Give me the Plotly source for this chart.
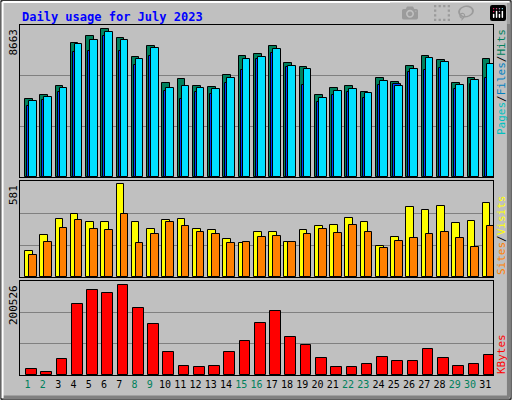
import plotly.graph_objects as go

days = list(range(1, 32))
hits = [4547,4782,5312,7840,8252,8663,8134,7017,7664,5488,5723,5312,5253,5958,7076,7193,7664,6664,6429,4782,5194,5312,4959,5782,5547,6488,7076,6840,5488,5782,6899]
pages = [4430,4665,5194,7781,8016,8487,8016,6899,7546,5194,5312,5194,5135,5782,6899,7017,7487,6488,6311,4606,5018,5135,4900,5606,5312,6311,6958,6723,5370,5664,6605]
files = [4136,4488,4959,7311,7370,8252,7370,6546,7076,5018,4547,4959,4841,5488,6252,6899,7252,6429,5370,4371,4782,4959,4606,5370,5429,6135,6252,6370,5135,5429,5782]
visits = [164,265,366,392,347,347,581,347,303,360,366,303,297,240,215,284,284,221,297,322,328,373,347,196,253,436,423,448,341,354,461]
sites = [139,221,309,360,303,297,392,215,272,347,322,284,272,215,221,253,259,221,272,303,278,328,284,183,227,246,272,284,246,189,322]
kbytes = [13904,7318,35858,156605,189536,180755,200526,147824,112697,51226,20490,18295,20490,51226,75375,114893,141237,84157,66594,38054,18295,18295,24881,40249,31467,31467,57812,38054,20490,24881,44640]
weekend = {1,2,8,9,15,16,22,23,29,30}

H = 400.0
def py(px): return 1 - px / H

ln = dict(color="black", width=1)
fig = go.Figure()
def bar(y, color, off, w, axis):
    fig.add_trace(go.Bar(x=days, y=y, marker=dict(color=color, line=ln), offset=off, width=w,
                         xaxis="x" + axis if axis != "1" else "x", yaxis="y" + axis if axis != "1" else "y",
                         showlegend=False, hoverinfo="skip"))

bar(hits, "#00805C", -0.17, 0.5, "1")
bar(files, "#0040FF", -0.04, 0.5, "1")
bar(pages, "#00E0FF", 0.09, 0.5, "1")
bar(visits, "#FFFF00", -0.17, 0.5, "2")
bar(sites, "#FF8000", 0.09, 0.5, "2")
bar(kbytes, "#FF0000", -0.1, 0.7, "3")

xd = [20/512, 493/512]
def xax(show):
    d = dict(domain=xd, range=[0.5, 31.5], showgrid=False, zeroline=False, showline=True, mirror=True,
             linecolor="black", fixedrange=True)
    if show:
        d.update(tickvals=days, tickangle=0,
                 ticktext=[f'<span style="color:{"#00805C" if d_ in weekend else "black"}">{d_}</span>' for d_ in days],
                 tickfont=dict(family="DejaVu Sans Mono", size=10), ticks="")
    else:
        d.update(showticklabels=False)
    return d

def yax(dom, R):
    return dict(domain=dom, range=[0, R], tickvals=[R/3, 2*R/3], showticklabels=False, gridcolor="#808080",
                gridwidth=1, zeroline=False, showline=True, mirror=True, linecolor="black", fixedrange=True)

R1 = 8663*152/147.7; R2 = 581*95.3/92; R3 = 200526*95/91.4
fig.update_layout(
    width=512, height=400, margin=dict(l=0, r=0, t=0, b=0),
    paper_bgcolor="#C0C0C0", plot_bgcolor="#C0C0C0", barmode="overlay", bargap=0,
    xaxis=dict(**xax(False), anchor="y"), yaxis=dict(**yax([py(177), py(25)], R1), anchor="x"),
    xaxis2=dict(**xax(False), anchor="y2"), yaxis2=dict(**yax([py(277), py(181)], R2), anchor="x2"),
    xaxis3=dict(**xax(True), anchor="y3"), yaxis3=dict(**yax([py(375), py(281)], R3), anchor="x3"),
)

mono = "DejaVu Sans Mono"
ann = [
    dict(x=20/512, y=py(8), xanchor="left", yanchor="top", text="<b>Daily usage for July 2023</b>",
         font=dict(family=mono, size=12, color="#0000FF")),
    dict(x=13/512, y=py(27), xanchor="center", yanchor="top", textangle=-90, text="8663",
         font=dict(family=mono, size=11, color="black")),
    dict(x=13/512, y=py(183), xanchor="center", yanchor="top", textangle=-90, text="581",
         font=dict(family=mono, size=11, color="black")),
    dict(x=13/512, y=py(283), xanchor="center", yanchor="top", textangle=-90, text="200526",
         font=dict(family=mono, size=11, color="black")),
    dict(x=501/512, y=py(27), xanchor="center", yanchor="top", textangle=-90,
         text='<span style="color:#00C0C0">Pages</span><span style="color:black">/</span><span style="color:#0080C0">Files</span><span style="color:black">/</span><span style="color:#00805C">Hits</span>',
         font=dict(family=mono, size=11)),
    dict(x=501/512, y=py(277), xanchor="center", yanchor="bottom", textangle=-90,
         text='<span style="color:#FF8000">Sites</span><span style="color:black">/</span><span style="color:#FFFF00">Visits</span>',
         font=dict(family=mono, size=11)),
    dict(x=501/512, y=py(376), xanchor="center", yanchor="bottom", textangle=-90,
         text='<span style="color:#FF0000">KBytes</span>', font=dict(family=mono, size=11)),
]
for a in ann:
    a.update(xref="paper", yref="paper", showarrow=False)
fig.update_layout(annotations=ann)

fig.update_layout(shapes=[
    dict(type="rect", xref="paper", yref="paper", x0=0.002, y0=0.002, x1=0.998, y1=0.998, line=dict(color="black", width=1)),
    dict(type="line", xref="paper", yref="paper", x0=0.006, y0=0.006, x1=0.994, y1=0.006, line=dict(color="#808080", width=4)),
    dict(type="line", xref="paper", yref="paper", x0=0.994, y0=0.006, x1=0.994, y1=0.994, line=dict(color="#808080", width=4)),
    dict(type="line", xref="paper", yref="paper", x0=0.005, y0=0.995, x1=0.995, y1=0.995, line=dict(color="white", width=2)),
    dict(type="line", xref="paper", yref="paper", x0=0.005, y0=0.005, x1=0.005, y1=0.995, line=dict(color="white", width=2)),
])

fig.write_html("out.html", post_script="document.body.style.margin='0';document.body.style.overflow='hidden';")
